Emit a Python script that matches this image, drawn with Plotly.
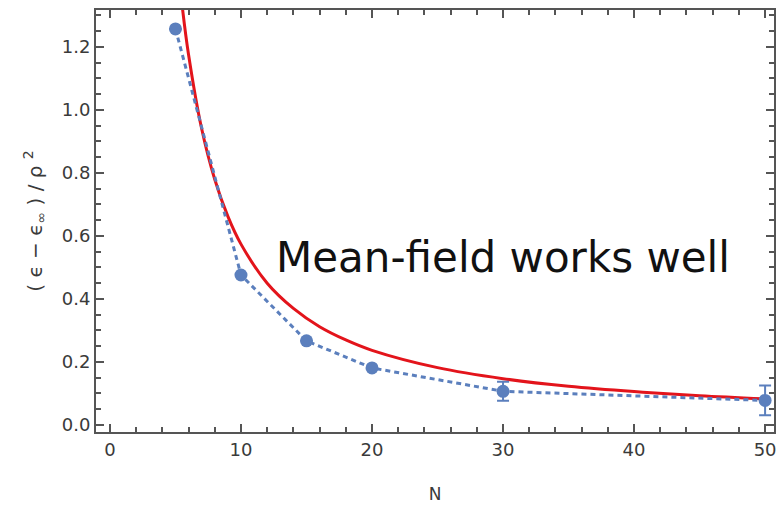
import plotly.graph_objects as go

# Simulation data (blue points)
N_sim = [5, 10, 15, 20, 30, 50]
eps_sim = [1.257, 0.476, 0.267, 0.181, 0.107, 0.078]
eps_err = [0.0, 0.0, 0.0, 0.0, 0.030, 0.047]

# Mean-field curve (red)
N_mf = [5.3, 5.55, 6, 7, 8, 9, 10, 12, 14, 16, 18, 20, 25, 30, 35, 40, 45, 50]
eps_mf = [1.42, 1.317, 1.175, 0.94, 0.779, 0.662, 0.574, 0.45, 0.37, 0.312,
          0.27, 0.237, 0.182, 0.147, 0.123, 0.106, 0.093, 0.083]

x_ticks = [0, 10, 20, 30, 40, 50]
y_ticks = [0.0, 0.2, 0.4, 0.6, 0.8, 1.0, 1.2]

blue = "#5b7fbd"
red = "#e3141b"
axis_col = "#555555"
label_col = "#3a3a3a"

fig = go.Figure()
fig.add_trace(go.Scatter(
    x=N_mf, y=eps_mf, mode="lines", line=dict(color=red, width=3, shape="spline"),
    showlegend=False, hoverinfo="skip"))
fig.add_trace(go.Scatter(
    x=N_sim, y=eps_sim, mode="lines+markers",
    line=dict(color=blue, width=3, dash="5px,4px"),
    marker=dict(color=blue, size=13),
    error_y=dict(type="data", array=eps_err, visible=True, color=blue, thickness=2, width=6),
    showlegend=False))

fig.add_annotation(
    text="Mean-field works well", xref="paper", yref="paper",
    x=(275 - 96) / 680, y=(432 - 257) / 422, xanchor="left", yanchor="middle",
    showarrow=False, font=dict(family="DejaVu Sans", size=42, color="#111111"))

axis_common = dict(
    showline=True, linecolor=axis_col, linewidth=2, mirror="allticks",
    ticks="inside", ticklen=8, tickwidth=1.5, tickcolor=axis_col,
    showgrid=False, zeroline=False,
    tickfont=dict(family="DejaVu Sans", size=18, color=label_col),
)

fig.update_xaxes(
    range=[-1.065, 50.68], tickvals=x_ticks, ticktext=[str(v) for v in x_ticks],
    minor=dict(dtick=2, tick0=0, ticks="inside", ticklen=5, tickcolor=axis_col, tickwidth=1.5),
    title=dict(text="N", font=dict(family="DejaVu Sans", size=17, color=label_col), standoff=30),
    **axis_common)
fig.update_yaxes(
    range=[-0.0222, 1.317], tickvals=y_ticks, ticktext=[f"{v:.1f}" for v in y_ticks],
    minor=dict(dtick=0.05, tick0=0, ticks="inside", ticklen=5, tickcolor=axis_col, tickwidth=1.5),
    title=dict(text="( ϵ − ϵ<sub>∞</sub> ) / ρ <sup>2</sup>",
               font=dict(family="DejaVu Sans", size=20, color=label_col), standoff=14),
    **axis_common)

fig.update_layout(
    width=777, height=507, margin=dict(l=96, r=1, t=10, b=75),
    plot_bgcolor="white", paper_bgcolor="white")

fig.write_html("out.html")
